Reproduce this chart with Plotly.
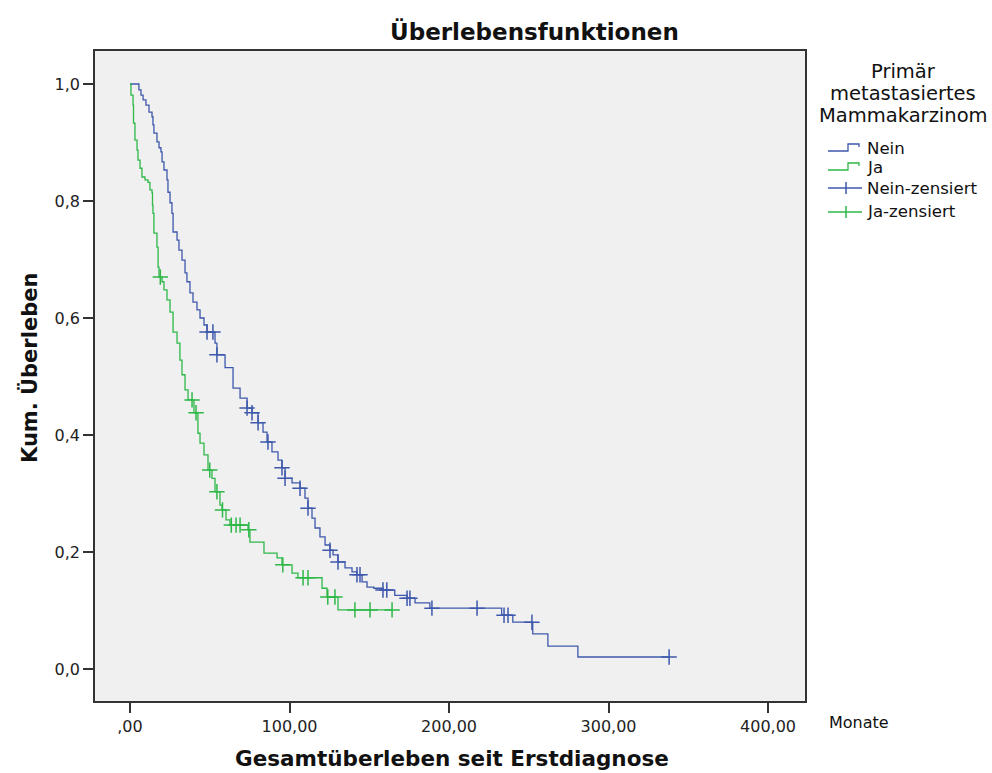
import numpy as np
import plotly.graph_objects as go

# ---- data ----
nein_t = [0.0, 5.6, 6.9, 8.2, 10.0, 11.9, 13.8, 14.4, 15.0, 16.9, 18.2, 19.4, 20.1, 21.3, 23.2, 23.8,
          25.1, 26.3, 27.0, 29.5, 30.7, 32.6, 34.5, 35.7, 37.6, 39.5, 42.0, 43.9, 46.4, 48.3, 53.3, 54.5,
          59.6, 64.6, 69.0, 73.4, 76.5, 80.3, 83.4, 85.9, 89.0, 92.8, 95.3, 97.2,
          101.6, 106.6, 109.7, 111.6, 114.1, 116.0, 119.1, 122.3, 125.4, 127.3, 130.4, 134.8, 139.2,
          142.3, 145.5, 148.6, 152.9, 158.6, 166.0, 173.7, 178.7, 188.0, 233.0, 240.0, 252.5, 262.0,
          280.8, 338.0]
nein_s = [1.0, 0.990, 0.981, 0.973, 0.964, 0.952, 0.944, 0.930, 0.916, 0.901, 0.891, 0.884, 0.867,
          0.853, 0.836, 0.815, 0.797, 0.779, 0.747, 0.733, 0.716, 0.699, 0.677, 0.662, 0.643, 0.627,
          0.614, 0.600, 0.588, 0.576, 0.557, 0.537,
          0.515, 0.480, 0.463, 0.446, 0.438, 0.421, 0.405, 0.388, 0.371, 0.357, 0.344, 0.326,
          0.318, 0.309, 0.292, 0.275, 0.258, 0.241, 0.226, 0.212, 0.203, 0.195, 0.183, 0.173, 0.166,
          0.161, 0.149, 0.140, 0.138, 0.135, 0.126, 0.121, 0.113, 0.104, 0.092, 0.080, 0.060, 0.039,
          0.0205, 0.0205]
nein_cens = [48.3, 52.0, 54.5, 73.4, 76.5, 80.3, 86.5, 95.3, 97.2, 106.6, 111.6, 125.4, 130.4,
             142.3, 144.2, 158.6, 161.0, 173.7, 175.5, 189.3, 217.6, 234.5, 237.0, 252.0, 338.0]

ja_t = [0.0, 0.6, 1.9, 2.2, 3.1, 4.4, 5.0, 6.3, 7.5, 9.4, 11.3, 12.5, 13.8, 14.1, 14.4, 15.0, 16.9,
        17.6, 18.2, 20.1, 21.3, 23.2, 25.1,
        27.0, 29.5, 31.3, 32.6, 34.5, 36.4, 40.1, 42.6, 43.9, 46.4, 48.9, 51.4, 53.3, 56.4, 57.7, 60.2,
        62.7, 74.0, 75.2, 84.0, 92.2, 95.3, 101.6, 105.3, 120.4, 123.5, 130.4, 164.3]
ja_s = [1.0, 0.981, 0.964, 0.933, 0.904, 0.887, 0.870, 0.856, 0.841, 0.836, 0.832, 0.819, 0.814,
        0.793, 0.779, 0.745, 0.721, 0.687, 0.670, 0.662, 0.648, 0.631, 0.610,
        0.576, 0.557, 0.528, 0.503, 0.477, 0.460, 0.438, 0.403, 0.386,
        0.366, 0.340, 0.326, 0.303, 0.280, 0.272, 0.255, 0.246, 0.238, 0.217, 0.198, 0.190, 0.178,
        0.164, 0.156, 0.138, 0.123, 0.101, 0.101]
ja_cens = [19.0, 38.9, 41.4, 50.0, 54.5, 58.0, 63.5, 66.5, 69.0, 74.5, 95.8, 108.5, 111.6, 124.0,
           128.5, 141.0, 150.5, 164.3]

x_ticks = [0, 100, 200, 300, 400]
x_ticktext = [",00", "100,00", "200,00", "300,00", "400,00"]
y_ticks = [0.0, 0.2, 0.4, 0.6, 0.8, 1.0]
y_ticktext = ["0,0", "0,2", "0,4", "0,6", "0,8", "1,0"]

legend_title_lines = ["Primär", "metastasiertes", "Mammakarzinom"]

BLUE = "#3E58AC"
GREEN = "#2EB848"
FONT = "DejaVu Sans, Liberation Sans, Arial, sans-serif"


def surv_at(times, surv, c):
    idx = np.searchsorted(np.array(times), np.array(c), side="right") - 1
    return [surv[i] for i in idx]


fig = go.Figure()
fig.add_trace(go.Scatter(x=nein_t, y=nein_s, mode="lines", line=dict(color=BLUE, width=1.3, shape="hv"),
                         name="Nein", showlegend=False))
fig.add_trace(go.Scatter(x=ja_t, y=ja_s, mode="lines", line=dict(color=GREEN, width=1.3, shape="hv"),
                         name="Ja", showlegend=False))
fig.add_trace(go.Scatter(x=nein_cens, y=surv_at(nein_t, nein_s, nein_cens), mode="markers",
                         marker=dict(symbol="cross-thin", size=11, line=dict(color=BLUE, width=1.5)),
                         name="Nein-zensiert", showlegend=False))
fig.add_trace(go.Scatter(x=ja_cens, y=surv_at(ja_t, ja_s, ja_cens), mode="markers",
                         marker=dict(symbol="cross-thin", size=11, line=dict(color=GREEN, width=1.5)),
                         name="Ja-zensiert", showlegend=False))

# plot area in pixels: x 95..805, y 51..701
L, R, T, B = 95, 805, 51, 701


def px(xp):
    return (xp - L) / (R - L)


def py(yp):
    return (B - yp) / (B - T)


shapes = []
annotations = []

# custom legend
legend_items = [
    ("Nein", BLUE, "step", 148),
    ("Ja", GREEN, "step", 167),
    ("Nein-zensiert", BLUE, "cens", 188),
    ("Ja-zensiert", GREEN, "cens", 212),
]
for label, col, kind, yc in legend_items:
    if kind == "step":
        pts = [(828, yc + 3), (848, yc + 3), (848, yc - 4), (859, yc - 4), (859, yc - 1)]
        path = "M " + " L ".join(f"{px(a):.5f},{py(b):.5f}" for a, b in pts)
        shapes.append(dict(type="path", xref="paper", yref="paper", path=path,
                           line=dict(color=col, width=1.3)))
    else:
        shapes.append(dict(type="line", xref="paper", yref="paper", x0=px(828), x1=px(862),
                           y0=py(yc), y1=py(yc), line=dict(color=col, width=1.3)))
        shapes.append(dict(type="line", xref="paper", yref="paper", x0=px(846), x1=px(846),
                           y0=py(yc - 6), y1=py(yc + 6), line=dict(color=col, width=1.5)))
    annotations.append(dict(text=label, xref="paper", yref="paper", x=px(865), y=py(yc),
                            xanchor="left", yanchor="middle", showarrow=False,
                            font=dict(family=FONT, size=16.6, color="#111")))

for line_text, yc in zip(legend_title_lines, [72, 93.5, 115]):
    annotations.append(dict(text=line_text, xref="paper", yref="paper",
                            x=px(903), y=py(yc), xanchor="center", yanchor="middle", showarrow=False,
                            font=dict(family=FONT, size=19.5, color="#111")))

annotations.append(dict(text="<b>Überlebensfunktionen</b>", xref="paper", yref="paper",
                        x=px(534), y=py(31), xanchor="center", yanchor="middle", showarrow=False,
                        font=dict(family=FONT, size=23, color="#111")))
annotations.append(dict(text="<b>Kum. Überleben</b>", xref="paper", yref="paper", textangle=-90,
                        x=px(30), y=py(368), xanchor="center", yanchor="middle", showarrow=False,
                        font=dict(family=FONT, size=21, color="#111")))
annotations.append(dict(text="<b>Gesamtüberleben seit Erstdiagnose</b>", xref="paper", yref="paper",
                        x=px(452), y=py(758), xanchor="center", yanchor="middle", showarrow=False,
                        font=dict(family=FONT, size=21.5, color="#111")))
annotations.append(dict(text="Monate", xref="paper", yref="paper",
                        x=px(827), y=py(722), xanchor="left", yanchor="middle", showarrow=False,
                        font=dict(family=FONT, size=16, color="#111")))

x0 = 0 - (130 - L) / 1.595
x1 = 400 + (R - 768) / 1.595
y0 = 0 - (B - 669) / 585
y1 = 1 + (84 - T) / 585

fig.update_layout(
    width=992, height=773,
    margin=dict(l=L, r=992 - R, t=T, b=773 - B, pad=0),
    paper_bgcolor="white", plot_bgcolor="#F0F0F0",
    shapes=shapes, annotations=annotations,
    showlegend=False,
    font=dict(family=FONT, size=16, color="#111"),
    xaxis=dict(range=[x0, x1], tickvals=x_ticks, ticktext=x_ticktext, showgrid=False, zeroline=False,
               showline=True, mirror=True, linecolor="#333", linewidth=1.5, ticks="outside",
               ticklen=10, tickwidth=1.5, tickcolor="#333", tickfont=dict(size=16, color="#222")),
    yaxis=dict(range=[y0, y1], tickvals=y_ticks, ticktext=y_ticktext, showgrid=False, zeroline=False,
               showline=True, mirror=True, linecolor="#333", linewidth=1.5, ticks="outside",
               ticklen=10, tickwidth=1.5, tickcolor="#333", tickfont=dict(size=16, color="#222")),
)

fig.write_html("out.html", config={"displayModeBar": False},
               post_script="document.body.style.margin='0';document.body.style.overflow='hidden';")
